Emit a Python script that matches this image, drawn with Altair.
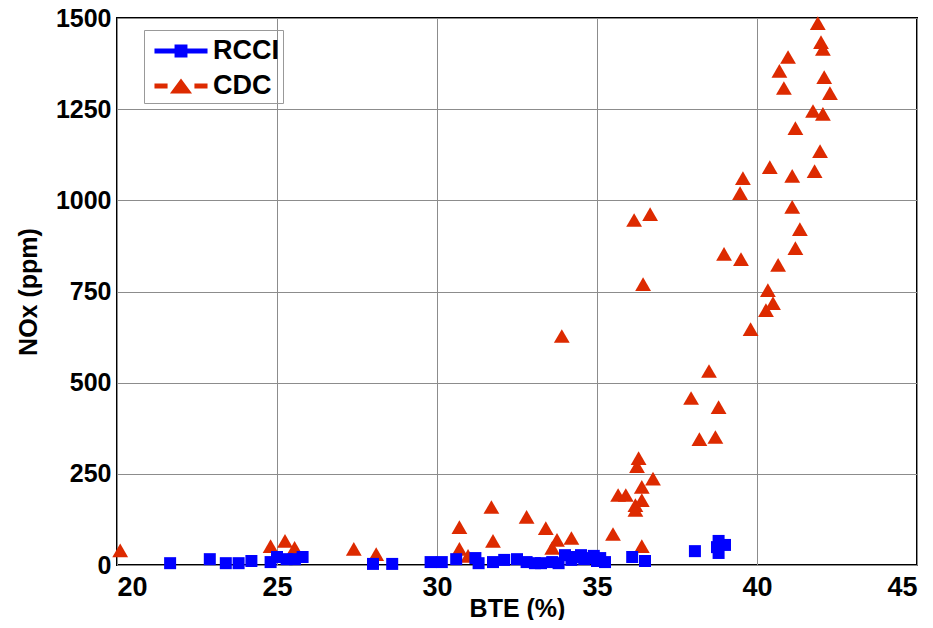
import altair as alt
import pandas as pd

# ---- data ----
rcci_bte = [21.66, 22.9, 23.4, 23.8, 24.2, 24.8, 25.0, 25.3, 25.56, 25.8,
            28.0, 28.6, 29.8, 30.15, 30.6, 31.2, 31.3, 31.75, 32.1, 32.5,
            32.8, 33.06, 33.25, 33.6, 33.8, 34.0, 34.2, 34.3, 34.5, 34.6,
            34.7, 34.9, 35.0, 35.1, 35.25, 36.1, 36.5, 38.06, 38.75, 38.8,
            38.8, 39.0]
rcci_nox = [5, 16, 5, 5, 11, 8, 22, 16, 16, 22,
            3, 3, 8, 8, 16, 19, 5, 8, 14, 16,
            8, 5, 5, 8, 5, 27, 14, 22, 27, 16,
            19, 25, 11, 19, 8, 22, 11, 38, 49, 33,
            66, 55]

cdc_bte = [20.1, 24.8, 25.25, 25.55, 27.4, 28.1, 30.7, 30.7, 30.97, 31.7,
           31.75, 32.8, 33.4, 33.75, 33.6, 34.2, 33.9, 35.5, 35.66, 35.9,
           36.2, 36.2, 36.4, 36.4, 36.4, 36.75, 36.3, 36.25, 36.16, 36.66,
           36.44, 37.94, 38.2, 38.5, 38.7, 38.8, 38.97, 39.5, 39.47, 39.56,
           39.8, 40.28, 40.34, 40.5, 40.66, 40.4, 40.7, 40.84, 40.97, 41.1,
           41.1, 41.2, 41.34, 41.2, 41.75, 41.8, 41.97, 41.9, 42.0, 42.06,
           42.1, 42.28, 42.06]
cdc_nox = [40, 52, 66, 47, 44, 30, 104, 44, 25, 159,
           66, 132, 101, 69, 47, 74, 628, 85, 192, 192,
           164, 151, 214, 178, 52, 237, 293, 271, 946, 962,
           770, 458, 345, 532, 351, 433, 853, 839, 1020, 1061,
           647, 699, 754, 718, 823, 1091, 1355, 1308, 1393, 1067,
           982, 869, 921, 1198, 1245, 1080, 1135, 1486, 1434, 1415,
           1338, 1294, 1237]

series_names = ["RCCI", "CDC"]
series_colors = ["#0000FF", "#DD2A00"]
x_ticks = [20, 25, 30, 35, 40, 45]
y_ticks = [0, 250, 500, 750, 1000, 1250, 1500]

rcci = pd.DataFrame({"BTE": rcci_bte, "NOx": rcci_nox, "Series": "RCCI"})
cdc = pd.DataFrame({"BTE": cdc_bte, "NOx": cdc_nox, "Series": "CDC"})
both = pd.concat([rcci, cdc], ignore_index=True)

FONT = "Liberation Sans"

# legend glyphs: line with marker (RCCI solid line + square, CDC dashes + triangle)
path_rcci = ("M-1.56,-0.147H1.56V0.147H-1.56Z "
             "M-0.38,-0.38H0.38V0.38H-0.38Z")
path_cdc = ("M-1.56,-0.147H-0.79V0.147H-1.56Z M0.79,-0.147H1.56V0.147H0.79Z "
            "M0,-0.44L0.65,0.44H-0.65Z")

axis_common = dict(
    grid=True, gridColor="#8c8c8c", gridWidth=1, domain=False, ticks=False,
    labelFont=FONT, labelFontWeight="bold", labelColor="black",
    titleFont=FONT, titleFontSize=25, titleFontWeight="bold", titleColor="black",
)

x_enc = alt.X("BTE:Q",
              scale=alt.Scale(domain=[20, 45], nice=False, zero=False),
              axis=alt.Axis(values=x_ticks, title="BTE (%)", labelPadding=9,
                            labelFontSize=27,
                            titleBaseline="alphabetic", titleY=51,
                            format="d", **axis_common))
y_enc = alt.Y("NOx:Q",
              scale=alt.Scale(domain=[0, 1500], nice=False),
              axis=alt.Axis(values=y_ticks, title="NOx (ppm)", labelPadding=6,
                            labelFontSize=25,
                            titlePadding=14, format="d", **axis_common))

legend = alt.Legend(
    title=None, orient="none", legendX=27, legendY=12,
    symbolSize=1156, symbolOpacity=1, symbolStrokeWidth=0, symbolOffset=16,
    labelFont=FONT, labelFontSize=27, labelFontWeight="bold", labelColor="black",
    labelOffset=15, strokeColor="#999999", fillColor="#ffffff00",
    padding=4, rowPadding=5,
)

cdc_layer = alt.Chart(cdc).mark_point(
    shape="triangle-up", filled=True, size=250, color="#DD2A00", opacity=1
).encode(x=x_enc, y=y_enc)

rcci_layer = alt.Chart(rcci).mark_point(
    shape="square", filled=True, size=144, color="#0000FF", opacity=1
).encode(x=x_enc, y=y_enc)

legend_layer = alt.Chart(both).mark_point(filled=True, opacity=0).encode(
    x=x_enc, y=y_enc,
    color=alt.Color("Series:N", scale=alt.Scale(domain=series_names, range=series_colors),
                    legend=legend),
    shape=alt.Shape("Series:N", scale=alt.Scale(domain=series_names, range=[path_rcci, path_cdc]),
                    legend=legend),
)

chart = alt.layer(cdc_layer, rcci_layer, legend_layer).properties(
    width=800, height=547,
    autosize=alt.AutoSizeParams(type="none"),
    padding={"left": 109, "top": 10, "right": 8, "bottom": 55},
    background="white",
).configure_view(stroke="black", strokeWidth=2).configure_legend(strokeWidth=1)

chart.save("out.html", embed_options={"renderer": "svg", "actions": False})
